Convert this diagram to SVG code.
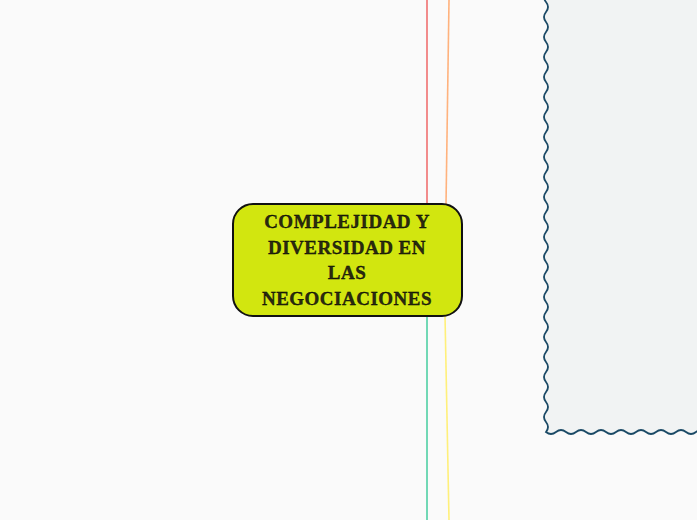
<svg xmlns="http://www.w3.org/2000/svg" width="697" height="520" viewBox="0 0 697 520">
<style>
.conn{fill:none;stroke-width:1.6}
.node rect{fill:#d2e60f;stroke:#111;stroke-width:2}
.label{font-family:"Liberation Serif",serif;font-weight:bold;font-size:19px;letter-spacing:0.5px;fill:#2a2a10;stroke:#000;stroke-width:0.3;text-anchor:middle}
</style>
<rect width="697" height="520" fill="#fafafa"/>
<g id="panel">
<path d="M546 -8 q -4 5 0 10 t 0 10 t 0 10 t 0 10 t 0 10 t 0 10 t 0 10 t 0 10 t 0 10 t 0 10 t 0 10 t 0 10 t 0 10 t 0 10 t 0 10 t 0 10 t 0 10 t 0 10 t 0 10 t 0 10 t 0 10 t 0 10 t 0 10 t 0 10 t 0 10 t 0 10 t 0 10 t 0 10 t 0 10 t 0 10 t 0 10 t 0 10 t 0 10 t 0 10 t 0 10 t 0 10 t 0 10 t 0 10 t 0 10 t 0 10 t 0 10 t 0 10 t 0 10 t 0 10 q 5 4 10 0 t 10 0 t 10 0 t 10 0 t 10 0 t 10 0 t 10 0 t 10 0 t 10 0 t 10 0 t 10 0 t 10 0 t 10 0 t 10 0 t 10 0 t 10 0 L 700 432 L 700 -8 Z" fill="#f1f3f3" stroke="#1b4a66" stroke-width="1.8"/>
</g>
<g id="connectors">
<line class="conn" x1="427" y1="0" x2="427" y2="205" stroke="#f07070"/>
<line class="conn" x1="449" y1="0" x2="446" y2="205" stroke="#ffb27d"/>
<line class="conn" x1="427" y1="315" x2="427" y2="520" stroke="#4fd0a4"/>
<line class="conn" x1="445" y1="315" x2="449" y2="520" stroke="#fff07a"/>
</g>
<g id="node-main" class="node">
<rect x="233" y="204" width="229" height="112" rx="20"/>
<text class="label" x="347" y="228">COMPLEJIDAD Y</text>
<text class="label" x="347" y="254">DIVERSIDAD EN</text>
<text class="label" x="347" y="279">LAS</text>
<text class="label" x="347" y="305">NEGOCIACIONES</text>
</g>
</svg>
